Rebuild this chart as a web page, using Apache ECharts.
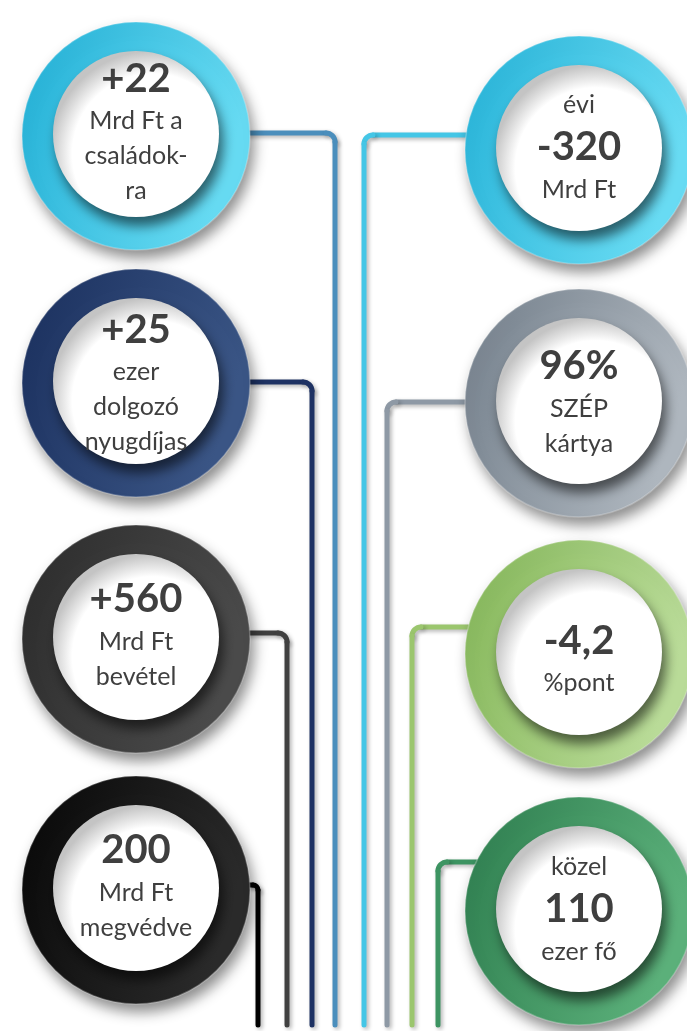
<!DOCTYPE html>
<html>
<head>
<meta charset="utf-8">
<script src="https://cdn.jsdelivr.net/npm/echarts@6/dist/echarts.min.js"></script>
<style>
html, body { margin: 0; padding: 0; background: #fff; }
#chart { width: 687px; height: 1031px; }
</style>
</head>
<body>
<div id="chart"></div>
<script>
// left column (top to bottom)
const leftValues = ['+22', '+25', '+560', '200']
const leftCaptions = [
  ['Mrd Ft a', 'családok-', 'ra'],
  ['ezer', 'dolgozó', 'nyugdíjas'],
  ['Mrd Ft', 'bevétel'],
  ['Mrd Ft', 'megvédve']
]
// right column (top to bottom)
const rightPrefix = ['évi', '', '', 'közel']
const rightValues = ['-320', '96%', '-4,2', '110']
const rightCaptions = [['Mrd Ft'], ['SZÉP', 'kártya'], ['%pont'], ['ezer fő']]

// layout
const W = 687, H = 1031
const leftX = 136, rightX = 579
const leftRows = [134, 381, 637, 888]
const rightRows = [148, 401, 652, 909]
const leftShift = [1, 5, 1, 1]
const rightShift = [-1, 4, 10, 0]
const leftElbow = [[335, 133], [312, 382], [287, 633], [258, 885]]
const rightElbow = [[364, 135], [387, 402], [412, 627], [438, 862]]
const lineEnd = 1025
const leftRing = [['#22B0D6', '#66DAF2'], ['#1B305E', '#3A5585'], ['#2C2C2C', '#4A4A4A'], ['#080808', '#2A2A2A']]
const rightRing = [['#26B3D8', '#68DBF3'], ['#74808C', '#AEB6BE'], ['#84B658', '#B9DB98'], ['#2E7E4F', '#5BB07A']]
const leftLine = ['#4A8EBC', '#1E3263', '#404040', '#000000']
const rightLine = ['#44C6E6', '#8E99A5', '#9BC66E', '#3D9462']

const items = []
leftValues.forEach((v, i) => {
  const lines = [{t: v, bold: true}].concat(leftCaptions[i].map(t => ({t, bold: false})))
  items.push({side: 'L', x: leftX, y: leftRows[i], lines, ring: leftRing[i], line: leftLine[i],
    ex: leftElbow[i][0], ey: leftElbow[i][1], shift: leftShift[i]})
})
rightValues.forEach((v, i) => {
  let lines = []
  if (rightPrefix[i]) lines.push({t: rightPrefix[i], bold: false})
  lines.push({t: v, bold: true})
  lines = lines.concat(rightCaptions[i].map(t => ({t, bold: false})))
  items.push({side: 'R', x: rightX, y: rightRows[i], lines, ring: rightRing[i], line: rightLine[i],
    ex: rightElbow[i][0], ey: rightElbow[i][1], shift: rightShift[i]})
})

const FONT = 'Lato, "Open Sans", sans-serif'
const TEXT = '#3F3F3F'

function lineHeight(l) {
  return l.bold ? 50 : 35
}

function renderConnector(params, api) {
  const it = items[api.value(4)]
  const p0 = api.coord([api.value(0), api.value(1)])
  const pe = api.coord([api.value(2), api.value(3)])
  const pb = api.coord([api.value(2), lineEnd])
  const rr = it.side === 'L' && api.value(4) === 3 ? 5 : 9
  const style = {
    stroke: it.line, lineWidth: 5, fill: null, lineCap: 'round',
    shadowColor: 'rgba(0,0,0,0.3)', shadowBlur: 4, shadowOffsetX: 2, shadowOffsetY: 2
  }
  const dir = it.side === 'L' ? 1 : -1
  const cx = pe[0] - dir * rr
  return {
    type: 'group',
    children: [
      {type: 'line', shape: {x1: p0[0], y1: pe[1], x2: cx, y2: pe[1]}, style},
      {type: 'arc', shape: it.side === 'L'
        ? {cx, cy: pe[1] + rr, r: rr, startAngle: -Math.PI / 2, endAngle: 0, clockwise: true}
        : {cx, cy: pe[1] + rr, r: rr, startAngle: Math.PI, endAngle: Math.PI * 1.5, clockwise: true}, style},
      {type: 'line', shape: {x1: pe[0], y1: pe[1] + rr, x2: pb[0], y2: pb[1]}, style}
    ]
  }
}

function renderRing(params, api) {
  const it = items[api.value(2)]
  const c = api.coord([api.value(0), api.value(1)])
  const rOut = api.size([114, 0])[0]
  const rIn = api.size([83, 0])[0]
  const children = [
    {
      type: 'circle', shape: {cx: c[0], cy: c[1] + 2, r: rOut},
      style: {
        fill: new echarts.graphic.LinearGradient(0, 0, 1, 0.3, [
          {offset: 0, color: it.ring[0]}, {offset: 1, color: it.ring[1]}
        ]),
        stroke: 'rgba(255,255,255,0.25)', lineWidth: 1.5,
        shadowColor: 'rgba(0,0,0,0.45)', shadowBlur: 14, shadowOffsetX: 4, shadowOffsetY: 8
      }
    },
    {
      type: 'circle', shape: {cx: c[0], cy: c[1], r: rIn},
      style: {
        fill: new echarts.graphic.RadialGradient(0.6, 0.62, 0.62, [
          {offset: 0, color: '#ffffff'}, {offset: 0.78, color: '#ffffff'}, {offset: 1, color: '#c4c4c4'}
        ]),
        shadowColor: 'rgba(0,0,0,0.55)', shadowBlur: 12, shadowOffsetX: 4, shadowOffsetY: 9
      }
    }
  ]
  // stack text lines around the centre
  let total = 0
  for (let k = 1; k < it.lines.length; k++) {
    total += (lineHeight(it.lines[k - 1]) + lineHeight(it.lines[k])) / 2
  }
  let y = c[1] - total / 2 + it.shift
  it.lines.forEach((l, k) => {
    if (k > 0) y += (lineHeight(it.lines[k - 1]) + lineHeight(l)) / 2
    children.push({
      type: 'text',
      style: {
        text: l.t, x: c[0], y,
        fill: TEXT, align: 'center', verticalAlign: 'middle',
        fontFamily: FONT, fontSize: l.bold ? 40 : 25, fontWeight: l.bold ? 'bold' : 'normal'
      }
    })
  })
  return {type: 'group', children}
}

const chart = echarts.init(document.getElementById('chart'))
chart.setOption({
  animation: false,
  grid: {left: 0, right: 0, top: 0, bottom: 0},
  xAxis: {type: 'value', min: 0, max: W, show: false},
  yAxis: {type: 'value', min: 0, max: H, inverse: true, show: false},
  series: [
    {
      type: 'custom',
      z: 1,
      renderItem: renderConnector,
      data: items.map((d, i) => [d.x, d.y, d.ex, d.ey, i])
    },
    {
      type: 'custom',
      z: 2,
      renderItem: renderRing,
      data: items.map((d, i) => [d.x, d.y, i])
    }
  ]
})
</script>
</body>
</html>
